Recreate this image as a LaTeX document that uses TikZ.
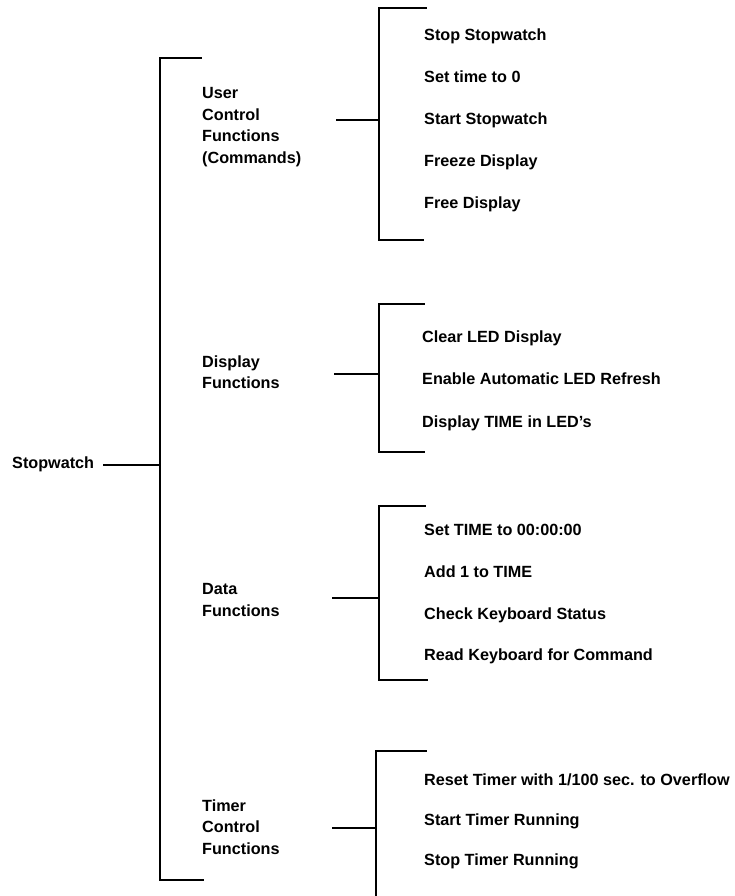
\documentclass[tikz,border=0pt]{standalone}
\usepackage{fontspec}
\setmainfont{Liberation Sans}
\begin{document}
\begin{tikzpicture}[x=1pt,y=-1pt,
  rule/.style={line width=2.4pt,line cap=rect},
  item/.style={anchor=west,inner sep=0pt,text height=11.5pt,text depth=0pt,
    font=\fontsize{16.2}{19}\selectfont\bfseries},
  grp/.style={anchor=west,inner sep=0pt,align=left,
    font=\fontsize{16.2}{21.5}\selectfont\bfseries}]
\useasboundingbox (0,0) rectangle (734,896);

% root
\node[item] (root) at (12,463) {Stopwatch};
\coordinate (rootS) at (104,465);
\coordinate (mT) at (160,58);
\coordinate (mTe) at (201,58);
\coordinate (mB) at (160,880);
\coordinate (mBe) at (203,880);
\coordinate (mS) at (160,465);
\draw[rule] (mTe) -- (mT) -- (mB) -- (mBe);
\draw[rule] (rootS) -- (mS);

% group 1
\node[grp] (g1) at (202,127) {User\\Control\\Functions\\(Commands)};
\coordinate (s1a) at (337,120);
\coordinate (s1b) at (379,120);
\coordinate (b1T) at (379,8);
\coordinate (b1Te) at (426,8);
\coordinate (b1B) at (379,240);
\coordinate (b1Be) at (423,240);
\draw[rule] (b1Te) -- (b1T) -- (b1B) -- (b1Be);
\draw[rule] (s1a) -- (s1b);
\node[item] (i11) at (424,35) {Stop Stopwatch};
\node[item] (i12) at (424,77) {Set time to 0};
\node[item] (i13) at (424,119) {Start Stopwatch};
\node[item] (i14) at (424,161) {Freeze Display};
\node[item] (i15) at (424,203) {Free Display};

% group 2
\node[grp] (g2) at (202,372) {Display\\Functions};
\coordinate (s2a) at (335,374);
\coordinate (s2b) at (379,374);
\coordinate (b2T) at (379,304);
\coordinate (b2Te) at (424,304);
\coordinate (b2B) at (379,452);
\coordinate (b2Be) at (424,452);
\draw[rule] (b2Te) -- (b2T) -- (b2B) -- (b2Be);
\draw[rule] (s2a) -- (s2b);
\node[item] (i21) at (422,337) {Clear LED Display};
\node[item] (i22) at (422,379) {Enable Automatic LED Refresh};
\node[item] (i23) at (422,422) {Display TIME in LED's};

% group 3
\node[grp] (g3) at (202,600) {Data\\Functions};
\coordinate (s3a) at (333,598);
\coordinate (s3b) at (379,598);
\coordinate (b3T) at (379,506);
\coordinate (b3Te) at (425,506);
\coordinate (b3B) at (379,680);
\coordinate (b3Be) at (427,680);
\draw[rule] (b3Te) -- (b3T) -- (b3B) -- (b3Be);
\draw[rule] (s3a) -- (s3b);
\node[item] (i31) at (424,530) {Set TIME to 00:00:00};
\node[item] (i32) at (424,572) {Add 1 to TIME};
\node[item] (i33) at (424,614) {Check Keyboard Status};
\node[item] (i34) at (424,655) {Read Keyboard for Command};

% group 4
\node[grp] (g4) at (202,827) {Timer\\Control\\Functions};
\coordinate (s4a) at (333,828);
\coordinate (s4b) at (376,828);
\coordinate (b4T) at (376,751);
\coordinate (b4Te) at (426,751);
\coordinate (b4B) at (376,900);
\draw[rule] (b4Te) -- (b4T) -- (b4B);
\draw[rule] (s4a) -- (s4b);
\node[item] (i41) at (424,780) {Reset Timer with 1/100 sec. to Overflow};
\node[item] (i42) at (424,820) {Start Timer Running};
\node[item] (i43) at (424,860) {Stop Timer Running};
\end{tikzpicture}
\end{document}
